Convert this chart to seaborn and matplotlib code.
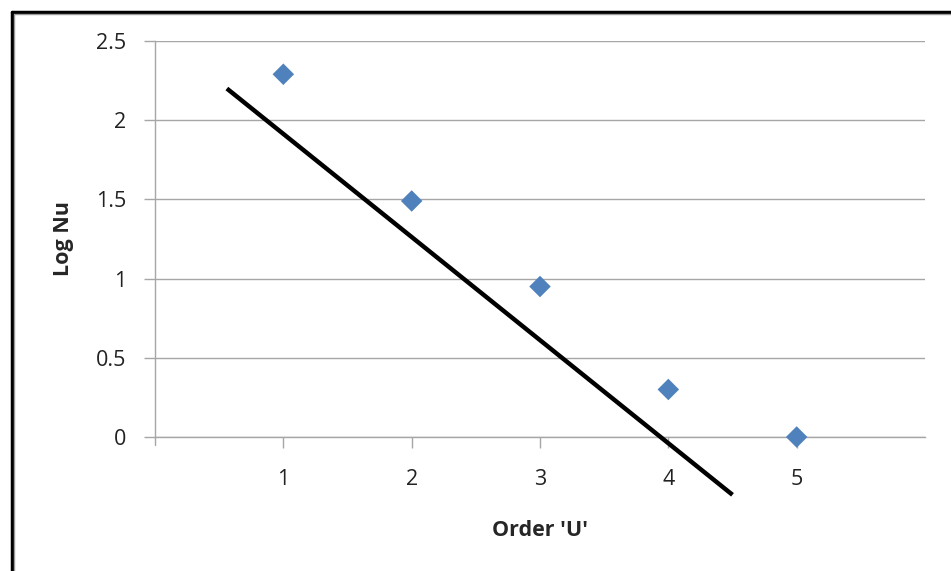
import matplotlib
matplotlib.use("Agg")
import matplotlib.pyplot as plt
from matplotlib.lines import Line2D
import seaborn as sns
import pandas as pd

# Data
order_u = [1, 2, 3, 4, 5]
log_nu = [2.29, 1.49, 0.95, 0.30, 0.00]
line_x = [0.56, 4.50]
line_y = [2.20, -0.365]
x_ticks = [1, 2, 3, 4, 5]
y_ticks = [0, 0.5, 1, 1.5, 2, 2.5]
y_tick_labels = ["0", "0.5", "1", "1.5", "2", "2.5"]

sns.set_style("white")
plt.rcParams['font.family'] = ['Open Sans', 'DejaVu Sans']

W, H = 951, 571
fig = plt.figure(figsize=(W / 100, H / 100), dpi=100)
ax = fig.add_axes([155 / W, 1 - 437 / H, (925 - 155) / W, (437 - 41) / H])

df = pd.DataFrame({"x": order_u, "y": log_nu})
sns.scatterplot(data=df, x="x", y="y", ax=ax, marker="D", s=120,
                color="#4F81BD", edgecolor="none", zorder=4, clip_on=False)

dl = pd.DataFrame({"x": line_x, "y": line_y})
sns.lineplot(data=dl, x="x", y="y", ax=ax, color="black", linewidth=3.2,
             zorder=3, sort=False)
for ln in ax.lines:
    ln.set_clip_on(False)
    ln.set_solid_capstyle("butt")

ax.set_xlim(0, 6)
ax.set_ylim(0, 2.5)
ax.set_xticks(x_ticks)
ax.set_yticks(y_ticks)
ax.set_yticklabels(y_tick_labels)
ax.yaxis.grid(True, color="#A6A6A6", linewidth=1.0)
ax.xaxis.grid(False)
ax.set_axisbelow(True)

for s in ["top", "right"]:
    ax.spines[s].set_visible(False)
for s in ["left", "bottom"]:
    ax.spines[s].set_color("#A6A6A6")
    ax.spines[s].set_linewidth(1.0)

ax.tick_params(axis="y", direction="out", length=8, width=1, color="#A6A6A6",
               labelsize=15.5, pad=13, labelcolor="#222222", left=True)
ax.tick_params(axis="x", direction="out", length=8, width=1, color="#A6A6A6",
               labelsize=15.5, pad=15, labelcolor="#222222", bottom=True)
# extra tick at x=0 for the axis origin
ax.add_line(Line2D([0, 0], [0, -0.05], color="#A6A6A6", linewidth=1, clip_on=False))

ax.set_xlabel("Order 'U'", fontsize=15.5, fontweight="bold")
ax.set_ylabel("Log Nu", fontsize=15.5, fontweight="bold")
ax.xaxis.set_label_coords(0.5, (437 - 530) / (437 - 41))
ax.yaxis.set_label_coords((64 - 155) / (925 - 155), 0.5)
ax.xaxis.label.set_va("center")
ax.yaxis.label.set_va("center")

# outer frame (left and top border)
fig.add_artist(Line2D([11.5 / W, 11.5 / W], [0, 1 - 11.5 / H], color="black",
                      linewidth=2.5, transform=fig.transFigure))
fig.add_artist(Line2D([11.5 / W, 1], [1 - 11.5 / H, 1 - 11.5 / H], color="black",
                      linewidth=2.5, transform=fig.transFigure))
fig.add_artist(Line2D([14 / W, 14 / W], [0, 1 - 14 / H], color="#9A9A9A",
                      linewidth=1, transform=fig.transFigure))
fig.add_artist(Line2D([14 / W, 1], [1 - 14 / H, 1 - 14 / H], color="#9A9A9A",
                      linewidth=1, transform=fig.transFigure))

fig.savefig("out.png", dpi=100)
